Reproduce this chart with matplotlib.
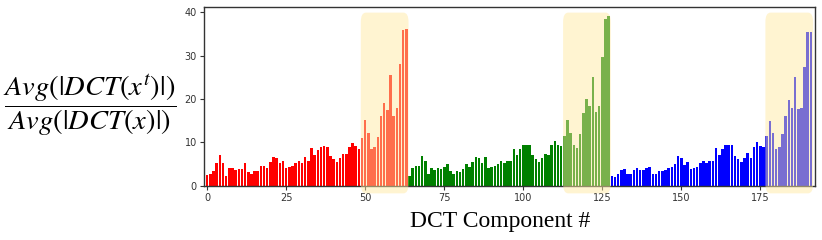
import numpy as np
import matplotlib
matplotlib.use('Agg')
import matplotlib.pyplot as plt
from matplotlib.patches import FancyBboxPatch

# ratio of average |DCT| per component, three channels of 64 components
red_vals = [2.5, 2.8, 3.3, 5.2, 7.1, 5.2, 2.3, 4.1, 4.1, 3.6, 3.8, 3.8, 5.2, 3.2, 2.6, 3.3,
            3.3, 4.6, 4.6, 4.1, 5.5, 6.6, 6.4, 5.2, 5.6, 4.1, 4.4, 4.6, 5.2, 5.8, 5.2, 6.6,
            5.8, 8.6, 7.1, 8.3, 9.0, 9.2, 9.0, 6.8, 6.2, 5.4, 6.4, 7.3, 7.3, 9.0, 9.8, 9.2,
            8.5, 11.1, 15.2, 12.2, 8.4, 9.0, 11.2, 16.2, 19.2, 17.5, 25.5, 16.2, 18.0, 28.1, 35.9, 36.2]
green_vals = [2.3, 4.0, 4.5, 4.5, 6.8, 5.8, 2.6, 4.0, 3.6, 4.1, 3.8, 4.4, 4.9, 3.3, 2.6, 3.5,
              3.2, 3.8, 4.9, 4.4, 5.4, 6.6, 6.4, 5.2, 6.6, 4.1, 4.4, 4.5, 5.1, 5.8, 5.2, 5.8,
              5.8, 8.5, 7.1, 8.5, 9.3, 9.3, 9.3, 7.1, 6.1, 5.4, 6.4, 7.3, 7.1, 9.3, 10.4, 9.3,
              9.2, 11.5, 15.2, 12.2, 9.3, 8.8, 12.0, 16.8, 20.0, 18.5, 25.1, 17.0, 18.5, 29.8, 38.6, 39.2]
blue_vals = [2.3, 2.0, 2.7, 3.6, 3.8, 2.6, 2.6, 3.6, 4.1, 3.6, 3.6, 4.1, 4.3, 2.8, 2.6, 3.3,
             3.3, 3.6, 4.1, 4.3, 5.1, 6.8, 6.4, 4.8, 5.4, 3.8, 4.1, 4.4, 5.2, 5.6, 5.2, 5.6,
             5.6, 8.6, 7.1, 8.4, 9.3, 9.3, 9.3, 6.8, 6.1, 5.4, 6.4, 7.6, 6.4, 9.0, 10.2, 9.2,
             9.0, 11.5, 14.9, 12.2, 8.4, 9.0, 11.9, 16.2, 19.8, 18.0, 25.1, 17.8, 17.9, 27.4, 35.5, 35.5]
channel_colors = ['red', 'green', 'blue']
highlight_start = 49  # last 15 components of each channel are highlighted
xticks = [0, 25, 50, 75, 100, 125, 150, 175]
yticks = [0, 10, 20, 30, 40]

plt.rcParams['mathtext.fontset'] = 'stix'

fig = plt.figure(figsize=(8.22, 2.4), dpi=100)
ax = fig.add_axes([0.2478, 0.2263, 0.7437, 0.7433])

for c, (vals, col) in enumerate(zip([red_vals, green_vals, blue_vals], channel_colors)):
    x = np.arange(len(vals)) + 64 * c
    ax.bar(x, vals, width=0.8, color=col, zorder=2)
    # translucent yellow rounded box laid over the highlighted components
    s = 64 * c + highlight_start
    box = FancyBboxPatch((s - 0.6 + 1.2, -1.4 + 1.0), 15.5 - 2.4, 41.0 - 2.0,
                         boxstyle='round,pad=1.0,rounding_size=1.6',
                         mutation_aspect=1.37,
                         facecolor='#ffe8a0', alpha=0.48, edgecolor='none',
                         zorder=3, clip_on=False)
    ax.add_patch(box)

ax.set_xlim(-1.1, 192.3)
ax.set_ylim(0, 41.2)
ax.set_xticks(xticks)
ax.set_yticks(yticks)
ax.tick_params(labelsize=7, length=3, width=0.8, colors='#333333', pad=2)
for sp in ax.spines.values():
    sp.set_color('#333333')
    sp.set_linewidth(1.0)

fig.text(500 / 822, 1 - 222 / 240, 'DCT Component #', family='Liberation Serif',
         fontsize=17, ha='center', va='center')
fig.text(90 / 822, 1 - 106 / 240, r'$\dfrac{Avg(|DCT(x^t)|)}{Avg(|DCT(x)|)}$',
         fontsize=20.5, ha='center', va='center')

fig.savefig('out.png', dpi=100)
